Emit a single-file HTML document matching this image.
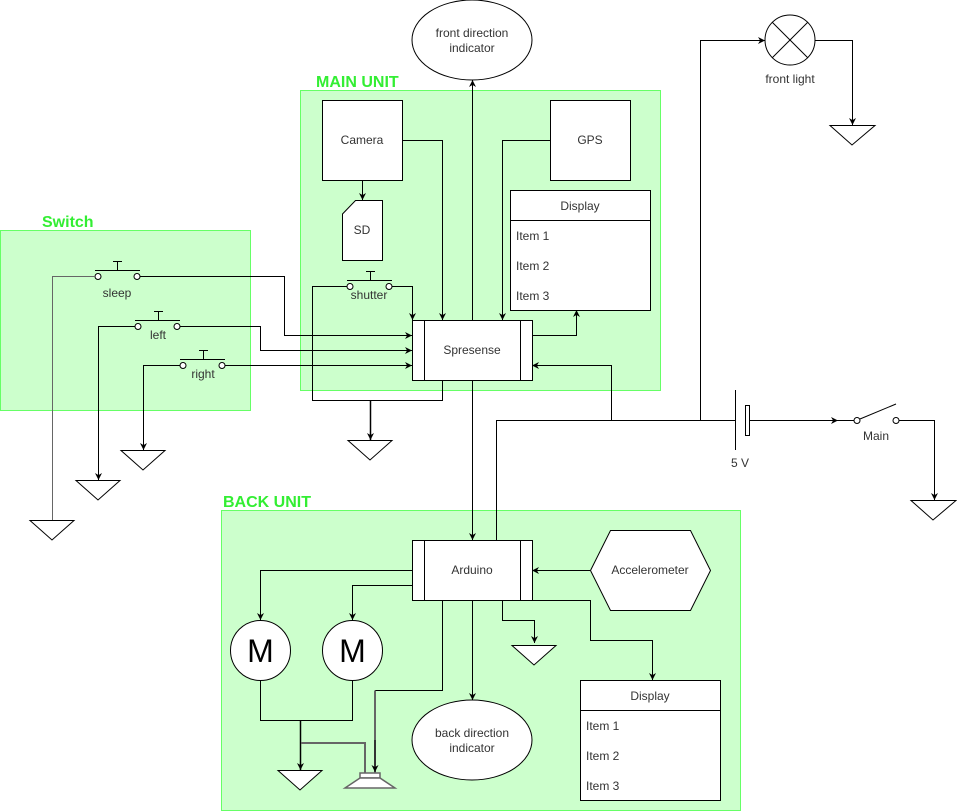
<!DOCTYPE html>
<html><head><meta charset="utf-8"><style>
html,body{margin:0;padding:0;background:#fff;}
svg{display:block;font-family:"Liberation Sans",Arial,sans-serif;}
text{font-size:12px;fill:#333;}
.g{fill:#ccffcc;stroke:#66ff66;stroke-width:1;}
.t{font-weight:bold;font-size:16px;fill:#33ee33;}
.w{fill:#fff;stroke:#000;stroke-width:1;}
.l{fill:none;stroke:#000;stroke-width:1;}
.gr{fill:none;stroke:#666;stroke-width:2;}
</style></head><body>
<svg width="957" height="811" viewBox="0 0 957 811" xmlns="http://www.w3.org/2000/svg">
<defs>
<marker id="a" viewBox="0 0 10 10" refX="10" refY="5" markerWidth="7" markerHeight="7" orient="auto-start-reverse" markerUnits="userSpaceOnUse"><path d="M0,0 L10,5 L0,10 L3,5 z" fill="#000"/></marker>
</defs>
<!-- groups -->
<rect class="g" x="0.5" y="230.5" width="250" height="180"/>
<text class="t" x="42" y="227">Switch</text>
<rect class="g" x="300.5" y="90.5" width="360" height="300"/>
<text class="t" x="316" y="87">MAIN UNIT</text>
<rect class="g" x="221.5" y="510.5" width="519" height="300"/>
<text class="t" x="223" y="507">BACK UNIT</text>

<!-- front indicator -->
<ellipse class="w" cx="472" cy="40" rx="60" ry="40"/>
<text x="472" y="37" text-anchor="middle">front direction</text>
<text x="472" y="52" text-anchor="middle">indicator</text>

<!-- camera, gps -->
<rect class="w" x="322.5" y="100.5" width="80" height="80"/>
<text x="362" y="144" text-anchor="middle">Camera</text>
<rect class="w" x="550.5" y="100.5" width="80" height="80"/>
<text x="590" y="144" text-anchor="middle">GPS</text>
<!-- SD -->
<path class="w" d="M355.5,200.5 L382.5,200.5 L382.5,260.5 L342.5,260.5 L342.5,214 Z"/>
<text x="362" y="234" text-anchor="middle">SD</text>
<!-- display main -->
<rect class="w" x="510.5" y="190.5" width="140" height="120"/>
<line class="l" x1="510" y1="220.5" x2="650" y2="220.5"/>
<text x="580" y="210" text-anchor="middle">Display</text>
<text x="516" y="240">Item 1</text>
<text x="516" y="270">Item 2</text>
<text x="516" y="300">Item 3</text>

<!-- spresense -->
<rect class="w" x="412.5" y="320.5" width="120" height="60"/>
<line class="l" x1="424.5" y1="320" x2="424.5" y2="380"/>
<line class="l" x1="520.5" y1="320" x2="520.5" y2="380"/>
<text x="472" y="354" text-anchor="middle">Spresense</text>

<!-- main unit wires -->
<path class="l" d="M362.5,180 V200" marker-end="url(#a)"/>
<path class="l" d="M402,140.5 H442.5 V320" marker-end="url(#a)"/>
<path class="l" d="M550,140.5 H502.5 V320" marker-end="url(#a)"/>
<path class="l" d="M472.5,320 V80" marker-end="url(#a)"/>
<path class="l" d="M532,335.5 H576.5 V310" marker-end="url(#a)"/>
<path class="l" d="M611.5,420 V365.5 H532" marker-end="url(#a)"/>
<path class="l" d="M472.5,380 V540" marker-end="url(#a)"/>

<!-- shutter -->
<line class="l" x1="347" y1="280.5" x2="392" y2="280.5"/>
<line class="l" x1="370.5" y1="271" x2="370.5" y2="280"/>
<line class="l" x1="366" y1="271.5" x2="375" y2="271.5"/>
<circle class="w" cx="350" cy="286.5" r="3"/>
<circle class="w" cx="389" cy="286.5" r="3"/>
<text x="369" y="299" text-anchor="middle">shutter</text>
<path class="l" d="M347,286.5 H312.5 V400.5 H442.5 V380"/>
<path class="l" d="M392,286.5 H412.5 V320" marker-end="url(#a)"/>
<path class="l" d="M370.5,400 V440" marker-end="url(#a)" style="stroke-width:1.5"/>
<path class="w" d="M348,440.5 H392 L370,460 Z"/>

<!-- sleep -->
<line class="l" x1="95" y1="270.5" x2="140" y2="270.5"/>
<line class="l" x1="117.5" y1="261" x2="117.5" y2="270"/>
<line class="l" x1="113" y1="261.5" x2="122" y2="261.5"/>
<circle class="w" cx="98" cy="276.5" r="3"/>
<circle class="w" cx="137" cy="276.5" r="3"/>
<text x="117" y="297" text-anchor="middle">sleep</text>
<path class="l" d="M140,276.5 H284.5 V335.5 H412" marker-end="url(#a)"/>
<path class="gr" d="M95,276.5 H52.5 V520" style="stroke-width:1"/>
<path class="w" d="M30,520.5 H74 L52,540 Z"/>

<!-- left -->
<line class="l" x1="135" y1="320.5" x2="180" y2="320.5"/>
<line class="l" x1="158.5" y1="311" x2="158.5" y2="320"/>
<line class="l" x1="154" y1="311.5" x2="163" y2="311.5"/>
<circle class="w" cx="138" cy="326.5" r="3"/>
<circle class="w" cx="177" cy="326.5" r="3"/>
<text x="158" y="339" text-anchor="middle">left</text>
<path class="l" d="M180,326.5 H260.5 V350.5 H412" marker-end="url(#a)"/>
<path class="l" d="M135,326.5 H98.5 V480" marker-end="url(#a)"/>
<path class="w" d="M76,480.5 H120 L98,500 Z"/>

<!-- right -->
<line class="l" x1="180" y1="359.5" x2="225" y2="359.5"/>
<line class="l" x1="203.5" y1="350" x2="203.5" y2="359"/>
<line class="l" x1="199" y1="350.5" x2="208" y2="350.5"/>
<circle class="w" cx="183" cy="365.5" r="3"/>
<circle class="w" cx="222" cy="365.5" r="3"/>
<text x="203" y="378" text-anchor="middle">right</text>
<path class="l" d="M225,365.5 H412" marker-end="url(#a)"/>
<path class="l" d="M180,365.5 H143.5 V450" marker-end="url(#a)"/>
<path class="w" d="M121,450.5 H165 L143,470 Z"/>

<!-- power -->
<path class="l" d="M496.5,540 V420.5 H735"/>
<path class="l" d="M700.5,420 V40.5 H765" marker-end="url(#a)"/>
<circle class="w" cx="790" cy="40" r="25"/>
<line class="l" x1="772" y1="22" x2="808" y2="58"/>
<line class="l" x1="808" y1="22" x2="772" y2="58"/>
<text x="790" y="83" text-anchor="middle">front light</text>
<path class="l" d="M815,40.5 H852.5 V125" marker-end="url(#a)"/>
<path class="w" d="M830,125.5 H875 L852,145 Z"/>
<line class="l" x1="735.5" y1="390" x2="735.5" y2="450"/>
<rect class="w" x="745.5" y="405.5" width="4" height="30"/>
<text x="740" y="467" text-anchor="middle">5 V</text>
<path class="l" d="M750,420.5 H838" marker-end="url(#a)"/>
<line class="l" x1="838" y1="420.5" x2="854" y2="420.5"/>
<circle class="w" cx="857" cy="420.5" r="3"/>
<line class="l" x1="860" y1="419" x2="896" y2="404"/>
<circle class="w" cx="896" cy="420.5" r="3"/>
<text x="876" y="440" text-anchor="middle">Main</text>
<path class="l" d="M899,420.5 H934.5 V500" marker-end="url(#a)"/>
<path class="w" d="M911,500.5 H956 L933,520 Z"/>

<!-- arduino -->
<rect class="w" x="412.5" y="540.5" width="120" height="60"/>
<line class="l" x1="424.5" y1="540" x2="424.5" y2="600"/>
<line class="l" x1="520.5" y1="540" x2="520.5" y2="600"/>
<text x="472" y="574" text-anchor="middle">Arduino</text>
<path class="w" d="M590.5,570.5 L610.5,530.5 L690.5,530.5 L710.5,570.5 L690.5,610.5 L610.5,610.5 Z"/>
<text x="650" y="574" text-anchor="middle">Accelerometer</text>
<path class="l" d="M590,570.5 H532" marker-end="url(#a)"/>

<!-- motors -->
<path class="l" d="M412,570.5 H260.5 V620" marker-end="url(#a)"/>
<path class="l" d="M412,585.5 H352.5 V620" marker-end="url(#a)"/>
<circle class="w" cx="260.5" cy="650.5" r="30"/>
<circle class="w" cx="352.5" cy="650.5" r="30"/>
<text x="260.5" y="662" text-anchor="middle" style="font-size:32px;fill:#000">M</text>
<text x="352.5" y="662" text-anchor="middle" style="font-size:32px;fill:#000">M</text>
<path class="l" d="M260.5,680 V720.5 H352.5 V680"/>
<path class="l" d="M300.5,720 V770" marker-end="url(#a)" style="stroke-width:1.5"/>
<path class="w" d="M278,770.5 H322 L300,790 Z"/>
<path class="gr" d="M301,743 H365 V773"/>
<path class="l" d="M442.5,600 V690.5 H375" style="stroke:#000"/>
<path class="gr" d="M375,690.5 V773"/>
<path class="l" d="M375,740 V772" marker-end="url(#a)"/>
<rect x="360" y="773" width="20" height="5" fill="#fff" stroke="#666" stroke-width="1.5"/>
<path d="M360,778 H380 L395,788 H345 Z" fill="#fff" stroke="#666" stroke-width="1.5"/>

<!-- back indicator -->
<path class="l" d="M472.5,600 V700" marker-end="url(#a)"/>
<ellipse class="w" cx="472" cy="740" rx="60" ry="40"/>
<text x="472" y="737" text-anchor="middle">back direction</text>
<text x="472" y="752" text-anchor="middle">indicator</text>

<path class="l" d="M502.5,600 V620.5 H534.5 V643" marker-end="url(#a)"/>
<path class="w" d="M512,645.5 H556 L534,665 Z"/>
<path class="l" d="M532,600.5 H590.5 V640.5 H652.5 V680" marker-end="url(#a)"/>

<!-- display back -->
<rect class="w" x="580.5" y="680.5" width="140" height="120"/>
<line class="l" x1="580" y1="710.5" x2="720" y2="710.5"/>
<text x="650" y="700" text-anchor="middle">Display</text>
<text x="586" y="730">Item 1</text>
<text x="586" y="760">Item 2</text>
<text x="586" y="790">Item 3</text>
</svg>
</body></html>
